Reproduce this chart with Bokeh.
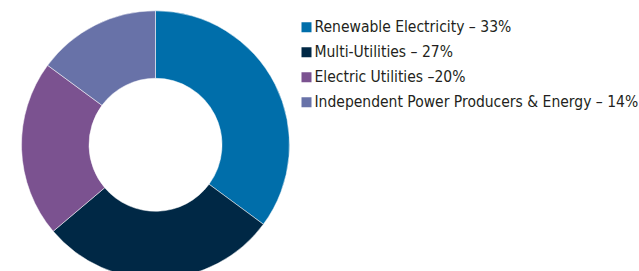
import numpy as np
from bokeh.plotting import figure
from bokeh.models import ColumnDataSource, Range1d
from bokeh.core.properties import value
from bokeh.embed import file_html
from bokeh.resources import INLINE

categories = ["Renewable Electricity", "Multi-Utilities", "Electric Utilities",
              "Independent Power Producers & Energy"]
values = [33, 27, 20, 14]
labels = ["Renewable Electricity – 33%", "Multi-Utilities  – 27%",
          "Electric Utilities –20%", "Independent Power Producers & Energy – 14%"]
colors = ["#006EAA", "#002845", "#7B5290", "#6872A8"]

W, H = 639, 271
p = figure(width=W, height=H, output_backend="svg", toolbar_location=None,
           x_range=Range1d(0, W), y_range=Range1d(0, H), min_border=0,
           outline_line_color=None)
p.axis.visible = False
p.grid.visible = False

vals = np.array(values, dtype=float)
frac = vals / vals.sum()
cum = np.concatenate([[0], np.cumsum(frac)])
start = np.pi / 2 - cum[:-1] * 2 * np.pi
end = np.pi / 2 - cum[1:] * 2 * np.pi

src = ColumnDataSource(dict(start=start, end=end, color=colors))
p.annular_wedge(x=155, y=126.7, inner_radius=66.5, outer_radius=134,
                start_angle="start", end_angle="end", direction="clock",
                fill_color="color", line_color="white", line_width=0.5, source=src)

ly = [H - (26.7 + 25 * i) for i in range(len(labels))]
lsrc = ColumnDataSource(dict(y=ly, color=colors, label=labels))
p.rect(x=306, y="y", width=10, height=10, fill_color="color", line_color=None, source=lsrc)
p.text(x=314, y="y", text="label", source=lsrc, text_font=value("DejaVu Sans Condensed"),
       text_font_size="15.5px", text_baseline="middle", text_color="#231F20")

open("out.html", "w").write(file_html(p, INLINE))
